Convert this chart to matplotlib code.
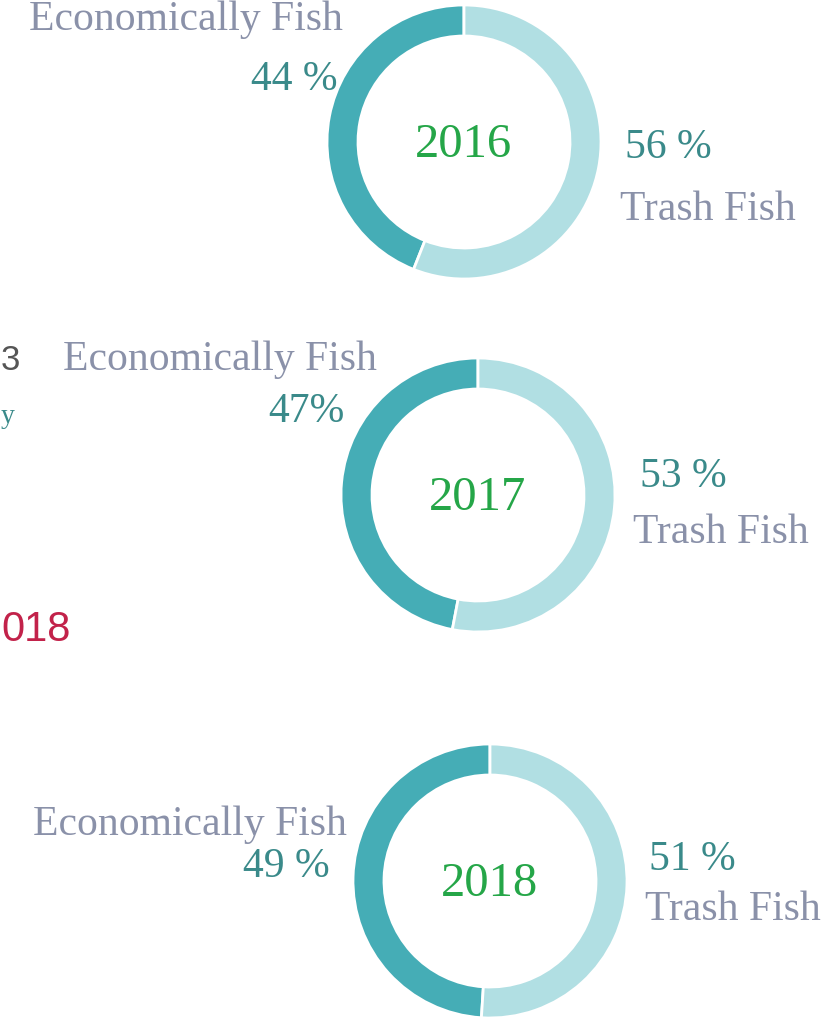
import matplotlib
matplotlib.use("Agg")
import matplotlib.pyplot as plt

# data
years = ["2016", "2017", "2018"]
economic = [44, 47, 49]
trash = [56, 53, 51]
econ_labels = ["44 %", "47%", "49 %"]
trash_labels = ["56 %", "53 %", "51 %"]

W, H = 833, 1018
DARK = "#45adb6"
LIGHT = "#b1dfe3"
GREY = "#8a91a9"
PCT = "#3a8a8a"
GREEN = "#25a648"

fig = plt.figure(figsize=(W / 100, H / 100), dpi=100)
ax = fig.add_axes([0, 0, 1, 1])

# donut centers (pixels from top-left)
centers = [(464, 142), (478, 495), (490, 881)]
R = 137

for i, (cx, cy) in enumerate(centers):
    ax.pie(
        [economic[i], trash[i]],
        colors=[DARK, LIGHT],
        startangle=90,
        counterclock=True,
        center=(cx, H - cy),
        radius=R,
        frame=True,
        wedgeprops=dict(width=31, edgecolor="white", linewidth=2),
    )

ax.set_xlim(0, W)
ax.set_ylim(0, H)
ax.set_aspect("equal")
ax.axis("off")

serif = ["Liberation Serif", "DejaVu Serif"]


def txt(x, y, s, **kw):
    kw.setdefault("family", serif)
    ax.text(x, H - y, s, **kw)


# label positions in pixels
econ_pos = [(186, 20), (220, 360), (190, 825)]
epct_pos = [(294, 80), (306, 412), (286, 867)]
tpct_pos = [(668, 148), (683, 477), (692, 860)]
tlab_pos = [(708, 210), (721, 533), (733, 910)]

for i in range(3):
    txt(*econ_pos[i], "Economically Fish", fontsize=30, color=GREY,
        ha="center", va="center")
    txt(*epct_pos[i], econ_labels[i], fontsize=30, color=PCT,
        ha="center", va="center")
    cx, cy = centers[i]
    txt(cx, cy + 3, years[i], fontsize=35, color=GREEN,
        ha="center", va="center")
    txt(*tpct_pos[i], trash_labels[i], fontsize=30, color=PCT,
        ha="center", va="center")
    txt(*tlab_pos[i], "Trash Fish", fontsize=30, color=GREY,
        ha="center", va="center")

# fragments of neighbouring content along the left edge
ax.text(1, H - 360, "3", fontsize=25, color="#555555", ha="left",
        va="center", family="Liberation Sans")
txt(1, 416, "y", fontsize=20, color=PCT, ha="left", va="center")
ax.text(1, H - 630, "018", fontsize=30, color="#c2224a", ha="left",
        va="center", family="Liberation Sans")

fig.savefig("out.png", dpi=100)
